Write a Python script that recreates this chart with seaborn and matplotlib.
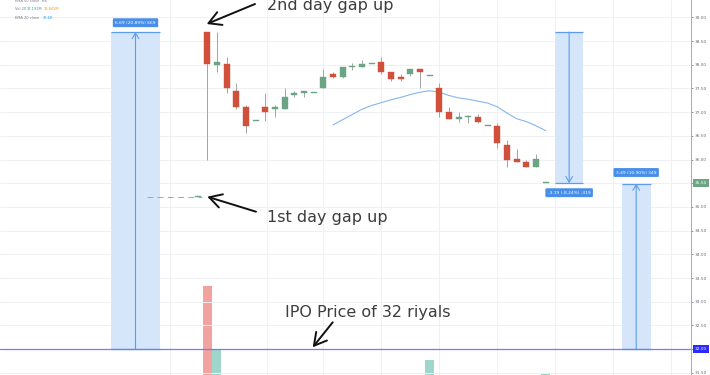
import numpy as np
import pandas as pd
import matplotlib
matplotlib.use("Agg")
import matplotlib.pyplot as plt
from matplotlib.patches import Rectangle
import seaborn as sns

# ---------------- data ----------------
opens  = [35.20, 38.70, 38.00, 38.01, 37.45, 37.11, 36.82, 37.10, 37.06, 37.06,
          37.36, 37.41, 37.41, 37.50, 37.80, 37.75, 37.96, 37.96, 38.01, 38.05,
          37.85, 37.75, 37.80, 37.90, 37.76, 37.50, 37.01, 36.85, 36.90, 36.90,
          36.71, 36.71, 36.30, 36.01, 35.95, 35.85, 35.50]
highs  = [35.20, 38.70, 38.70, 38.16, 37.61, 37.15, 36.82, 37.40, 37.15, 37.50,
          37.45, 37.45, 37.41, 37.90, 37.85, 37.96, 38.03, 38.10, 38.01, 38.16,
          37.85, 37.80, 37.90, 37.90, 37.76, 37.61, 37.11, 37.01, 36.94, 36.95,
          36.71, 36.76, 36.41, 36.22, 36.00, 36.11, 35.50]
lows   = [35.20, 36.00, 37.85, 37.41, 37.06, 36.55, 36.82, 36.82, 36.90, 37.06,
          37.31, 37.31, 37.41, 37.50, 37.71, 37.71, 37.89, 37.96, 38.01, 37.80,
          37.66, 37.66, 37.76, 37.50, 37.76, 36.90, 36.85, 36.80, 36.76, 36.76,
          36.71, 36.25, 35.85, 35.95, 35.85, 35.85, 35.50]
closes = [35.20, 38.01, 38.06, 37.50, 37.10, 36.71, 36.82, 37.01, 37.11, 37.31,
          37.41, 37.45, 37.41, 37.75, 37.75, 37.96, 37.97, 38.01, 38.01, 37.85,
          37.70, 37.70, 37.90, 37.85, 37.76, 37.01, 36.85, 36.90, 36.90, 36.80,
          36.71, 36.35, 36.00, 35.95, 35.85, 36.02, 35.50]
volumes_m = [20.0, 108.0, 57.4, 30.5, 25.1, 28.3, 12.0, 22.4, 18.6, 24.0,
             16.2, 14.5, 10.8, 30.9, 17.3, 21.5, 13.2, 15.8, 9.6, 26.4,
             19.8, 14.1, 16.9, 22.7, 48.5, 33.6, 20.2, 14.8, 12.5, 16.3,
             11.9, 29.8, 34.1, 18.4, 20.6, 24.3, 37.2]
ema_start = 14
ema20 = [36.73, 36.84, 36.95, 37.06, 37.14, 37.20, 37.26, 37.31, 37.37, 37.42,
         37.45, 37.42, 37.35, 37.30, 37.27, 37.23, 37.19, 37.11, 36.98, 36.86,
         36.80, 36.71, 36.61]
ipo_price = 32.00
day1_price = 35.20
peak_price = 38.69
last_price = 35.50
measure_labels = ["6.69 (20.89%) 669", "-3.19 (-8.24%) -319", "3.49 (10.90%) 349"]
price_ticks = [31.5, 32.0, 32.5, 33.0, 33.5, 34.0, 34.5, 35.0, 35.5,
               36.0, 36.5, 37.0, 37.5, 38.0, 38.5, 39.0]

df = pd.DataFrame({"idx": np.arange(len(opens)), "open": opens, "high": highs,
                   "low": lows, "close": closes, "vol": volumes_m})
df["up"] = df["close"] >= df["open"]
ema_df = pd.DataFrame({"idx": np.arange(ema_start, ema_start + len(ema20)), "ema": ema20})

# ---------------- layout helpers (pixel -> data) ----------------
W, H = 710, 375
X0, DX = 197.6, 9.67
def px2x(px):
    return (px - X0) / DX
def py2y(py):
    return 39.0 - (py - 17.3) / 47.4
def fp(px, py):
    return (px, H - py)

sns.set_style("white")
plt.rcParams["font.family"] = ["DejaVu Sans"]

fig = plt.figure(figsize=(W / 100, H / 100), dpi=100)
rect = [0, 0, 691 / W, 1]
axv = fig.add_axes(rect)
ax = fig.add_axes(rect, sharex=axv)
ax.patch.set_visible(False)

ax.set_xlim(px2x(0), px2x(691))
ax.set_ylim(py2y(H), py2y(0))

# volume (overlay)
RED, GREEN = "#d1503b", "#6ba584"
vcol = np.where(df["up"], "#9fd6cb", "#f2a3a0")
axv.bar(df["idx"], df["vol"], width=0.93, color=vcol, linewidth=0)
axv.set_ylim(36.4, 339.5)
axv.axis("off")

# grid
ax.set_yticks(price_ticks)
ax.set_xticks([-2.85, 7.15, 13, 19, 25, 31, 37, 43, 49])
ax.grid(True, color="#eef0f4", lw=0.7, zorder=0)
ax.tick_params(axis="x", length=0, labelbottom=False)
ax.yaxis.tick_right()
ax.yaxis.set_major_formatter(matplotlib.ticker.FormatStrFormatter("%.2f"))
ax.tick_params(axis="y", labelsize=3.1, colors="#6a6d78", length=1.5, width=0.5, pad=1.2)
for s in ["left", "top", "bottom"]:
    ax.spines[s].set_visible(False)
ax.spines["right"].set_color("#a8abb3")
ax.spines["right"].set_linewidth(0.7)

# measurement boxes
BOXF, BOXE = "#d5e6fb", "#5b9cf0"
def measure(px0, px1, y_from, y_to, label, label_py):
    x0, x1 = px2x(px0), px2x(px1)
    lo, hi = min(y_from, y_to), max(y_from, y_to)
    ax.add_patch(Rectangle((x0, lo), x1 - x0, hi - lo, facecolor=BOXF,
                           edgecolor="none", zorder=1))
    ax.hlines([lo, hi], x0, x1, color=BOXE, lw=0.9, zorder=2)
    xm = (x0 + x1) / 2
    ax.annotate("", xy=(xm, y_to), xytext=(xm, y_from),
                arrowprops=dict(arrowstyle="->,head_length=0.5,head_width=0.3",
                                color=BOXE, lw=0.8, shrinkA=0, shrinkB=0,
                                mutation_scale=8), zorder=3)
    ax.text(xm, py2y(label_py), label, ha="center", va="center", fontsize=3.2,
            color="white", zorder=6,
            bbox=dict(boxstyle="round,pad=0.55,rounding_size=0.25",
                      fc="#4a8fe7", ec="none"))

measure(111, 160, ipo_price, peak_price, measure_labels[0], 22.7)
measure(555, 583.3, peak_price, last_price, measure_labels[1], 192.7)
measure(621.7, 650.7, ipo_price, 35.49, measure_labels[2], 172.5)

# IPO line
ax.axhline(ipo_price, color="#7878ff", lw=0.9, zorder=4)
# 1st day dashed guide
ax.hlines(day1_price, px2x(147), px2x(202), color="#a6a6a6", lw=0.7,
          linestyles=(0, (6, 4.5)), zorder=3)

# candles
ax.vlines(df["idx"], df["low"], df["high"], color="#a3a3a3", lw=0.7, zorder=4)
body_lo = np.minimum(df["open"], df["close"])
body_h = np.maximum(np.abs(df["close"] - df["open"]), 0.022)
ccol = np.where(df["up"], GREEN, RED)
ax.bar(df["idx"], body_h, bottom=body_lo, width=0.62, color=ccol,
       edgecolor=ccol, linewidth=0.3, zorder=5)

# EMA
sns.lineplot(data=ema_df, x="idx", y="ema", ax=ax, color="#86b6ef", lw=0.8, zorder=4)
ax.set_xlabel("")
ax.set_ylabel("")

# price axis labels
blend = matplotlib.transforms.blended_transform_factory(ax.transAxes, ax.transData)
for val, bg in [(last_price, "#6ca583"), (ipo_price, "#2b2bff")]:
    ax.text(1.0 + 4 / 691, val, f"{val:.2f}", transform=blend, fontsize=3.1,
            color="white", ha="left", va="center", clip_on=False, zorder=10,
            bbox=dict(boxstyle="square,pad=0.5", fc=bg, ec="none"))

# annotations
TXT = "#3d3d3d"
arrow = dict(arrowstyle="->,head_length=0.8,head_width=0.45", color="#111111",
             lw=1.4, shrinkA=0, shrinkB=0, mutation_scale=11)
fig.text(*[v / d for v, d in zip(fp(266.7, 10), (W, H))], "2nd day gap up",
         fontsize=11.5, color=TXT, ha="left", va="baseline")
fig.text(*[v / d for v, d in zip(fp(266.7, 221.7), (W, H))], "1st day gap up",
         fontsize=11.5, color=TXT, ha="left", va="baseline")
fig.text(*[v / d for v, d in zip(fp(285, 316.7), (W, H))], "IPO Price of 32 riyals",
         fontsize=11.5, color=TXT, ha="left", va="baseline")
for head, tail in [((206.7, 24), (255, 4)), ((207.3, 196.7), (256, 211.7)),
                   ((312.7, 347.3), (332.7, 322.3))]:
    ax.annotate("", xy=fp(*head), xytext=fp(*tail), xycoords="figure pixels",
                textcoords="figure pixels", arrowprops=arrow, zorder=9)

# legend texts
def ftxt(px, py, s, c):
    fig.text(px / W, 1 - py / H, s, fontsize=2.6, color=c, ha="left", va="center")
ftxt(15, 1.2, "EMA 50 close", "#787b86")
ftxt(41.5, 1.2, "n/a", "#787b86")
ftxt(15, 9.3, "Vol 20", "#787b86")
ftxt(26.5, 9.3, "37.191M", "#26a69a")
ftxt(43.5, 9.3, "13.841M", "#ff9800")
ftxt(15, 18.3, "EMA 20 close", "#787b86")
ftxt(42.5, 18.3, "36.60", "#2196f3")

fig.savefig("out.png", dpi=100)
